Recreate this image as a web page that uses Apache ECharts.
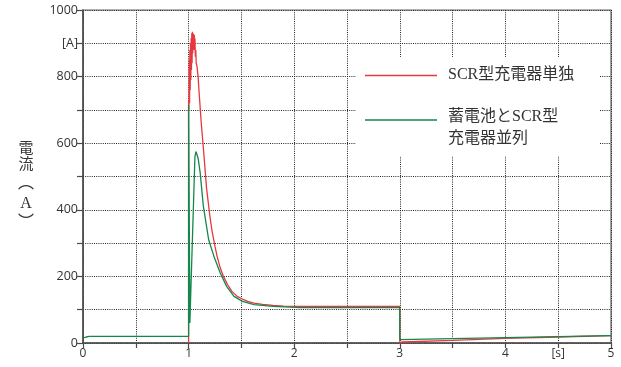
<!DOCTYPE html>
<html><head><meta charset="utf-8">
<script src="https://cdn.jsdelivr.net/npm/echarts@6/dist/echarts.min.js"></script>
<style>html,body{margin:0;padding:0;background:#fff}#c{width:621px;height:367px}</style>
</head><body><div id="c"></div>
<script>
// ---- data ----
const seriesNames = ['SCR型充電器単独', '蓄電池とSCR型\n充電器並列'];
const seriesColors = ['#e8383d', '#14874c'];
const redTime = [1.0, 1.0, 1.003, 1.006, 1.009, 1.012, 1.015, 1.018, 1.021, 1.024, 1.027, 1.030, 1.033, 1.036, 1.039, 1.042, 1.045, 1.048, 1.051, 1.054, 1.057, 1.060, 1.064, 1.068, 1.072, 1.08, 1.09, 1.10, 1.12, 1.14, 1.17, 1.20, 1.22, 1.25, 1.27, 1.30, 1.33, 1.37, 1.41, 1.46, 1.51, 1.56, 1.62, 1.70, 1.80, 1.90, 2.06, 2.5, 3.0, 3.0, 3.02, 3.5, 4.0, 4.5, 5.0];
const redCurrent = [0, 730, 700, 850, 720, 880, 760, 900, 790, 915, 820, 930, 840, 935, 870, 930, 880, 928, 890, 925, 880, 915, 860, 880, 840, 830, 800, 750, 660, 585, 465, 385, 340, 290, 260, 225, 200, 175, 155, 140, 132, 125, 120, 116, 113, 111, 110, 110, 110, 0, 3, 8, 14, 18, 22];
const greenTime = [0, 0.03, 0.06, 1.0, 1.0, 1.006, 1.012, 1.06, 1.07, 1.08, 1.09, 1.11, 1.14, 1.19, 1.24, 1.30, 1.36, 1.43, 1.51, 1.62, 1.80, 2.06, 2.5, 3.0, 3.0, 3.5, 4.0, 4.5, 5.0];
const greenCurrent = [15, 18, 20, 20, 715, 715, 60, 560, 575, 570, 555, 510, 410, 310, 260, 210, 170, 140, 125, 115, 110, 106, 106, 106, 10, 13, 16, 19, 22];
const xTickValues = [0, 0.5, 1, 1.5, 2, 2.5, 3, 3.5, 4, 4.5, 5];
const xTickLabels = ['0', '', '1', '', '2', '', '3', '', '4', '[s]', '5'];
const yTickValues = [0, 100, 200, 300, 400, 500, 600, 700, 800, 900, 1000];
const yTickLabels = ['0', '', '200', '', '400', '', '600', '', '800', '[A]', '1000'];
const yAxisTitle = ['電', '流', '︵', 'A', '︶'];

const pairs = (t, v) => t.map((x, i) => [x, v[i]]);
const lookup = (vals, labels) => (v) => {
  const i = vals.findIndex(x => Math.abs(x - v) < 1e-6);
  return i < 0 ? '' : labels[i];
};
const serifFont = "'Liberation Serif','Noto Sans CJK JP',serif";
const labelFont = "'Open Sans','Noto Sans',sans-serif";
const textColor = '#333';
const axisColor = '#4a4a4a';
const gridLine = { show: true, lineStyle: { color: '#222', width: 1, type: [1, 1.2] } };

const chart = echarts.init(document.getElementById('c'), null, { renderer: 'canvas' });
chart.setOption({
  animation: false,
  backgroundColor: '#fff',
  grid: { left: 83, right: 10, top: 10, bottom: 24, show: true, borderColor: '#666', borderWidth: 1.2 },
  xAxis: {
    type: 'value', min: 0, max: 5, interval: 0.5,
    axisLine: { show: true, onZero: false, lineStyle: { color: axisColor, width: 1.5 } },
    axisTick: { show: true, length: 5, lineStyle: { color: axisColor, width: 1.2 } },
    axisLabel: { formatter: lookup(xTickValues, xTickLabels), color: textColor, fontSize: 12, fontFamily: labelFont, margin: 5 },
    splitLine: gridLine
  },
  yAxis: {
    type: 'value', min: 0, max: 1000, interval: 100,
    axisLine: { show: true, onZero: false, lineStyle: { color: axisColor, width: 1.5 } },
    axisTick: { show: true, length: 6, lineStyle: { color: axisColor, width: 1.2 } },
    axisLabel: { formatter: lookup(yTickValues, yTickLabels), color: textColor, fontSize: 12.5, fontFamily: labelFont, margin: 5 },
    splitLine: gridLine
  },
  series: [
    { name: seriesNames[0], type: 'line', data: pairs(redTime, redCurrent), showSymbol: false, symbol: 'none',
      lineStyle: { color: seriesColors[0], width: 1.3 }, itemStyle: { color: seriesColors[0] }, z: 3 },
    { name: seriesNames[1], type: 'line', data: pairs(greenTime, greenCurrent), showSymbol: false, symbol: 'none',
      lineStyle: { color: seriesColors[1], width: 1.3 }, itemStyle: { color: seriesColors[1] }, z: 4 }
  ],
  graphic: [
    { type: 'rect', shape: { x: 356, y: 57, width: 244, height: 99 }, style: { fill: '#fff' }, z: 10 },
    { type: 'line', shape: { x1: 365, y1: 75.5, x2: 437, y2: 75.5 }, style: { stroke: seriesColors[0], lineWidth: 1.5 }, z: 11 },
    { type: 'line', shape: { x1: 365, y1: 120, x2: 437, y2: 120 }, style: { stroke: seriesColors[1], lineWidth: 1.5 }, z: 11 },
    { type: 'text', x: 448, y: 75, style: { text: seriesNames[0], fill: textColor, font: "16px " + serifFont, textVerticalAlign: 'middle' }, z: 11 },
    { type: 'text', x: 448, y: 128, style: { text: seriesNames[1], fill: textColor, font: "16px " + serifFont, lineHeight: 22, textVerticalAlign: 'middle' }, z: 11 },
    { type: 'text', x: 26, y: 149, style: { text: yAxisTitle[0], fill: textColor, font: "15px " + serifFont, textAlign: 'center', textVerticalAlign: 'middle' } },
    { type: 'text', x: 26, y: 165, style: { text: yAxisTitle[1], fill: textColor, font: "15px " + serifFont, textAlign: 'center', textVerticalAlign: 'middle' } },
    { type: 'text', x: 26, y: 184, style: { text: yAxisTitle[2], fill: textColor, font: "16px " + serifFont, textAlign: 'center', textVerticalAlign: 'middle' } },
    { type: 'text', x: 26, y: 204, style: { text: yAxisTitle[3], fill: textColor, font: "16px " + serifFont, textAlign: 'center', textVerticalAlign: 'middle' } },
    { type: 'text', x: 26, y: 223, style: { text: yAxisTitle[4], fill: textColor, font: "16px " + serifFont, textAlign: 'center', textVerticalAlign: 'middle' } }
  ]
});
</script></body></html>
